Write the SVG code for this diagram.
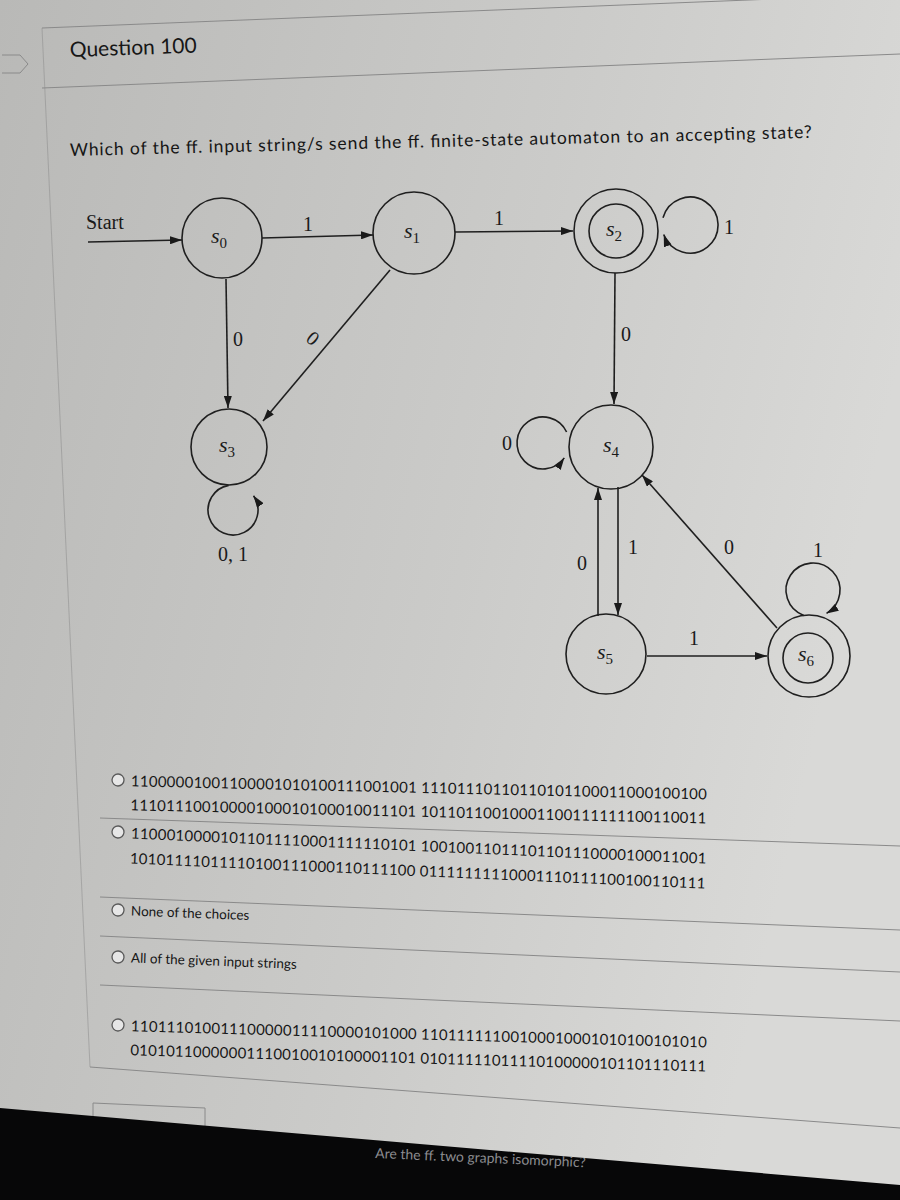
<svg xmlns="http://www.w3.org/2000/svg" width="900" height="1200" viewBox="0 0 900 1200">
<defs>
<linearGradient id="bg" x1="0" y1="0" x2="1" y2="0.3">
<stop offset="0" stop-color="#b9b9b7"/>
<stop offset="0.6" stop-color="#cbcbc9"/>
<stop offset="1" stop-color="#d9d9d7"/>
</linearGradient>
<marker id="ah" viewBox="0 0 12 8" refX="12" refY="4" markerWidth="12" markerHeight="8" markerUnits="userSpaceOnUse" orient="auto">
<path d="M0,0 L12,4 L0,8 Z" fill="#1a1a1a"/>
</marker>
<clipPath id="darkclip"><polygon points="0,1108 900,1185 900,1200 0,1200"/></clipPath>
<style>
.ui{font-family:Lato,"Open Sans","Liberation Sans",sans-serif;fill:#161616}
.q{font-size:21px}
.qt{font-size:17.5px}
.bin{font-size:15px}
.opt{font-size:13.5px}
.lbl{font-family:"Liberation Serif",serif;font-size:20px;fill:#1a1a1a}
.st{font-family:"Liberation Serif",serif;font-size:22px;font-style:italic;fill:#1a1a1a}
.sub{font-size:15px;font-style:normal}
.node{fill:none;stroke:#1f1f1f;stroke-width:1.6}
.edge{fill:none;stroke:#1f1f1f;stroke-width:1.6}
.rule{stroke:#8a8a8a;stroke-width:1;fill:none}
.radio{fill:#e6e6e6;stroke:#5a5a5a;stroke-width:1.3}
</style>
</defs>

<rect x="0" y="0" width="900" height="1200" fill="url(#bg)"/>

<g id="page-frame">
<path class="rule" d="M2,55 L20,55 L28,64 L20,73 L2,73" stroke="#6a6a7a" stroke-width="1.5"/>
<line class="rule" x1="42" y1="28" x2="900" y2="-6"/>
<line class="rule" x1="42" y1="88" x2="900" y2="54"/>
<line class="rule" x1="42" y1="28" x2="90" y2="1067" stroke-opacity="0.5"/>
<line class="rule" x1="100" y1="818" x2="900" y2="846"/>
<line class="rule" x1="100" y1="897" x2="900" y2="930"/>
<line class="rule" x1="100" y1="936" x2="900" y2="972"/>
<line class="rule" x1="100" y1="985" x2="900" y2="1021"/>
<line class="rule" x1="90" y1="1067" x2="900" y2="1128"/>
<path class="rule" d="M93,1128 L93,1103 L205,1108 L205,1130"/>
</g>

<g id="header">
<text class="ui q" x="70" y="57" transform="rotate(-2 70 57)">Question 100</text>
<text class="ui qt" x="70" y="156" textLength="742" transform="rotate(-1.4 70 156)">Which of the ff. input string/s send the ff. finite-state automaton to an accepting state?</text>
</g>

<g id="connectors">
<line class="edge" x1="88" y1="242" x2="182" y2="240" marker-end="url(#ah)"/>
<text class="lbl" x="86" y="229" font-size="21">Start</text>
<line class="edge" x1="262" y1="238" x2="373" y2="235" marker-end="url(#ah)"/>
<text class="lbl" x="303" y="231">1</text>
<line class="edge" x1="455" y1="232" x2="573" y2="231" marker-end="url(#ah)"/>
<text class="lbl" x="494" y="225">1</text>
<path class="edge" d="M663,217.8 A28 28 0 1 1 663.7,234.6" marker-end="url(#ah)"/>
<text class="lbl" x="724" y="234">1</text>
<line class="edge" x1="226" y1="279" x2="228" y2="408" marker-end="url(#ah)"/>
<text class="lbl" x="233" y="346">0</text>
<line class="edge" x1="390" y1="270" x2="263" y2="421" marker-end="url(#ah)"/>
<text class="lbl" x="313" y="345" text-anchor="middle" transform="rotate(40 313 338)">0</text>
<line class="edge" x1="615" y1="273" x2="614" y2="404" marker-end="url(#ah)"/>
<text class="lbl" x="621" y="341">0</text>
<path class="edge" d="M228.7,485.4 A25 25 0 1 0 253.5,495.7" marker-end="url(#ah)"/>
<text class="lbl" x="233" y="561" text-anchor="middle">0, 1</text>
<path class="edge" d="M566.6,432 A26 26 0 1 0 564.3,457.9" marker-end="url(#ah)"/>
<text class="lbl" x="502" y="450">0</text>
<line class="edge" x1="598" y1="616" x2="598" y2="488" marker-end="url(#ah)"/>
<text class="lbl" x="577" y="570">0</text>
<line class="edge" x1="618" y1="487" x2="618" y2="615" marker-end="url(#ah)"/>
<text class="lbl" x="628" y="554">1</text>
<line class="edge" x1="647" y1="656" x2="767" y2="656" marker-end="url(#ah)"/>
<text class="lbl" x="689" y="645">1</text>
<line class="edge" x1="777" y1="628" x2="642" y2="475" marker-end="url(#ah)"/>
<text class="lbl" x="724" y="554">0</text>
<path class="edge" d="M803.8,615.4 A27 27 0 1 1 826.5,613.4" marker-end="url(#ah)"/>
<text class="lbl" x="813" y="557">1</text>
</g>

<g id="s0"><circle class="node" cx="222" cy="238" r="40"/><text class="st" x="211" y="243">s<tspan class="sub" dy="5">0</tspan></text></g>
<g id="s1"><circle class="node" cx="414" cy="233" r="41"/><text class="st" x="404" y="238">s<tspan class="sub" dy="5">1</tspan></text></g>
<g id="s2"><circle class="node" cx="616" cy="231" r="42"/><circle class="node" cx="616" cy="231" r="27"/><text class="st" x="606" y="236">s<tspan class="sub" dy="5">2</tspan></text></g>
<g id="s3"><circle class="node" cx="229" cy="447" r="38"/><text class="st" x="219" y="452">s<tspan class="sub" dy="5">3</tspan></text></g>
<g id="s4"><circle class="node" cx="611" cy="447" r="42"/><text class="st" x="603" y="452">s<tspan class="sub" dy="5">4</tspan></text></g>
<g id="s5"><circle class="node" cx="606" cy="654" r="40"/><text class="st" x="597" y="659">s<tspan class="sub" dy="5">5</tspan></text></g>
<g id="s6"><circle class="node" cx="809" cy="656" r="41"/><circle class="node" cx="808" cy="658" r="25"/><text class="st" x="798" y="661">s<tspan class="sub" dy="5">6</tspan></text></g>

<g id="options">
<g transform="rotate(1.3 118 780)">
<circle class="radio" cx="118" cy="780" r="6"/>
<text class="ui bin" x="131" y="786" textLength="576">11000001001100001010100111001001 11101110110110101100011000100100</text>
<text class="ui bin" x="131" y="810" textLength="576">11101110010000100010100010011101 10110110010001100111111100110011</text>
</g>
<g transform="rotate(2.5 118 832)">
<circle class="radio" cx="118" cy="832" r="6"/>
<text class="ui bin" x="131" y="838" textLength="576">11000100001011011110001111110101 10010011011101101110000100011001</text>
<text class="ui bin" x="131" y="863" textLength="576">10101111011110100111000110111100 01111111110001110111100100110111</text>
</g>
<g transform="rotate(2.2 118 910)">
<circle class="radio" cx="118" cy="910" r="6"/>
<text class="ui opt" x="131" y="915">None of the choices</text>
</g>
<g transform="rotate(2.2 118 957)">
<circle class="radio" cx="118" cy="957" r="6"/>
<text class="ui opt" x="131" y="962">All of the given input strings</text>
</g>
<g transform="rotate(1.6 118 1025)">
<circle class="radio" cx="118" cy="1025" r="6"/>
<text class="ui bin" x="131" y="1031" textLength="576">11011101001110000011110000101000 11011111100100010001010100101010</text>
<text class="ui bin" x="131" y="1055" textLength="576">01010110000001110010010100001101 01011111011110100000101101110111</text>
</g>
</g>

<g id="screen-edge">
<polygon points="0,1108 900,1185 900,1200 0,1200" fill="#070708"/>
<g clip-path="url(#darkclip)">
<text x="375" y="1158" font-family="Lato,'Open Sans',sans-serif" font-size="14" fill="#8c8c90" transform="rotate(2.5 375 1158)">Are the ff. two graphs isomorphic?</text>
</g>
</g>
</svg>
